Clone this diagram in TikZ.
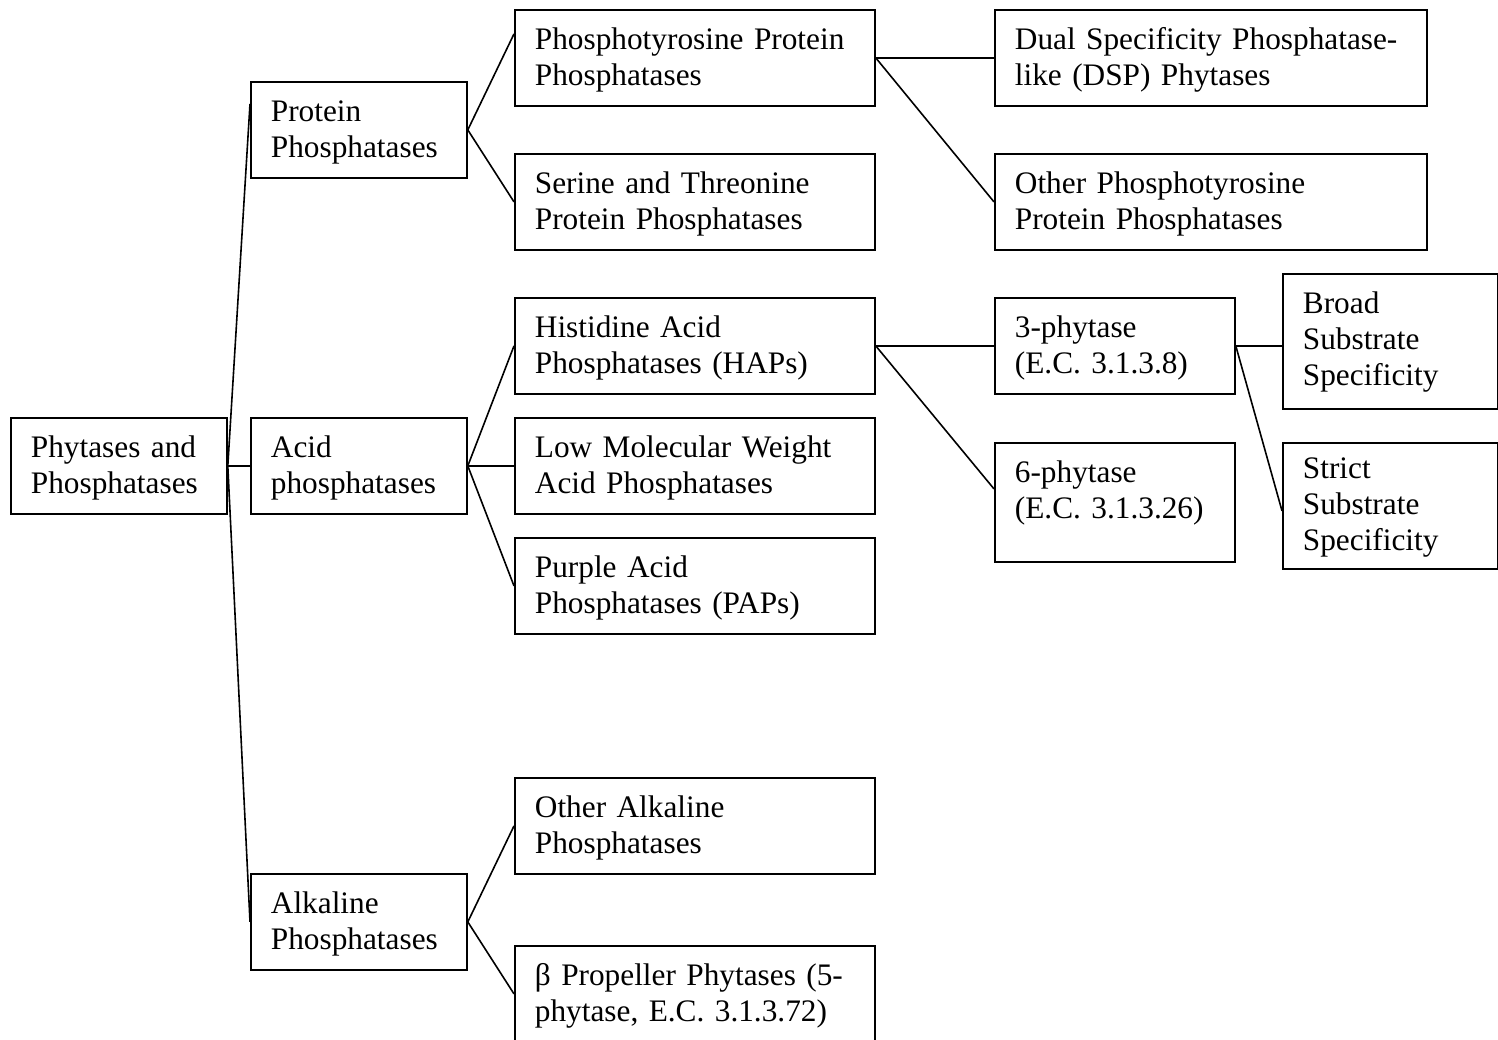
\documentclass[tikz,border=0pt]{standalone}
\usepackage{fontspec}
\setmainfont{Liberation Serif}
\begin{document}
\begin{tikzpicture}[x=1pt,y=-1pt,
  box/.style={draw, line width=1.8pt, anchor=north west, inner xsep=0pt, inner ysep=0pt,
    align=left, font=\fontsize{31.3}{36}\selectfont,
    execute at begin node={\leftskip=20pt\relax},
    text height=40pt},
  conn/.style={line width=1.6pt}]
\useasboundingbox (0,0) rectangle (1498,1039);

\node[box, text width=216pt, text depth=56pt] (root) at (10,417) {Phytases and\\Phosphatases};

\node[box, text width=216pt, text depth=56pt] (prot) at (250,81) {Protein\\Phosphatases};
\node[box, text width=216pt, text depth=56pt] (acid) at (250,417) {Acid\\phosphatases};
\node[box, text width=216pt, text depth=56pt] (alk) at (250,873) {Alkaline\\Phosphatases};

\node[box, text width=360pt, text depth=56pt] (ptp) at (514,9) {Phosphotyrosine Protein\\Phosphatases};
\node[box, text width=360pt, text depth=56pt] (ser) at (514,153) {Serine and Threonine\\Protein Phosphatases};
\node[box, text width=360pt, text depth=56pt] (hap) at (514,297) {Histidine Acid\\Phosphatases (HAPs)};
\node[box, text width=360pt, text depth=56pt] (lmw) at (514,417) {Low Molecular Weight\\Acid Phosphatases};
\node[box, text width=360pt, text depth=56pt] (pap) at (514,537) {Purple Acid\\Phosphatases (PAPs)};
\node[box, text width=360pt, text depth=56pt] (oalk) at (514,777) {Other Alkaline\\Phosphatases};
\node[box, text width=360pt, text depth=56pt] (bpp) at (514,945) {β Propeller Phytases (5-\\phytase, E.C. 3.1.3.72)};

\node[box, text width=432pt, text depth=56pt] (dsp) at (994,9) {Dual Specificity Phosphatase-\\like (DSP) Phytases};
\node[box, text width=432pt, text depth=56pt] (optp) at (994,153) {Other Phosphotyrosine\\Protein Phosphatases};
\node[box, text width=240pt, text depth=56pt] (p3) at (994,297) {3-phytase\\(E.C. 3.1.3.8)};
\node[box, text width=240pt, text depth=79pt] (p6) at (994,442) {6-phytase\\(E.C. 3.1.3.26)};

\node[box, text width=215pt, text depth=95pt] (broad) at (1282,273) {Broad\\Substrate\\Specificity};
\node[box, text width=215pt, text height=36pt, text depth=90pt] (strict) at (1282,442) {Strict\\Substrate\\Specificity};

\draw[conn] (root.east) -- ([yshift=26pt]prot.west);
\draw[conn] (root.east) -- (acid.west);
\draw[conn] (root.east) -- (alk.west);

\draw[conn] (prot.east) -- ([yshift=24pt]ptp.west);
\draw[conn] (prot.east) -- (ser.west);

\draw[conn] (acid.east) -- (hap.west);
\draw[conn] (acid.east) -- (lmw.west);
\draw[conn] (acid.east) -- (pap.west);

\draw[conn] (alk.east) -- (oalk.west);
\draw[conn] (alk.east) -- (bpp.west);

\draw[conn] (ptp.east) -- (dsp.west);
\draw[conn] (ptp.east) -- (optp.west);

\draw[conn] (hap.east) -- (p3.west);
\draw[conn] (hap.east) -- ([yshift=13.5pt]p6.west);

\draw[conn] (p3.east) -- (p3.east -| broad.west);
\draw[conn] (p3.east) -- ([yshift=-5pt]strict.west);
\end{tikzpicture}
\end{document}
